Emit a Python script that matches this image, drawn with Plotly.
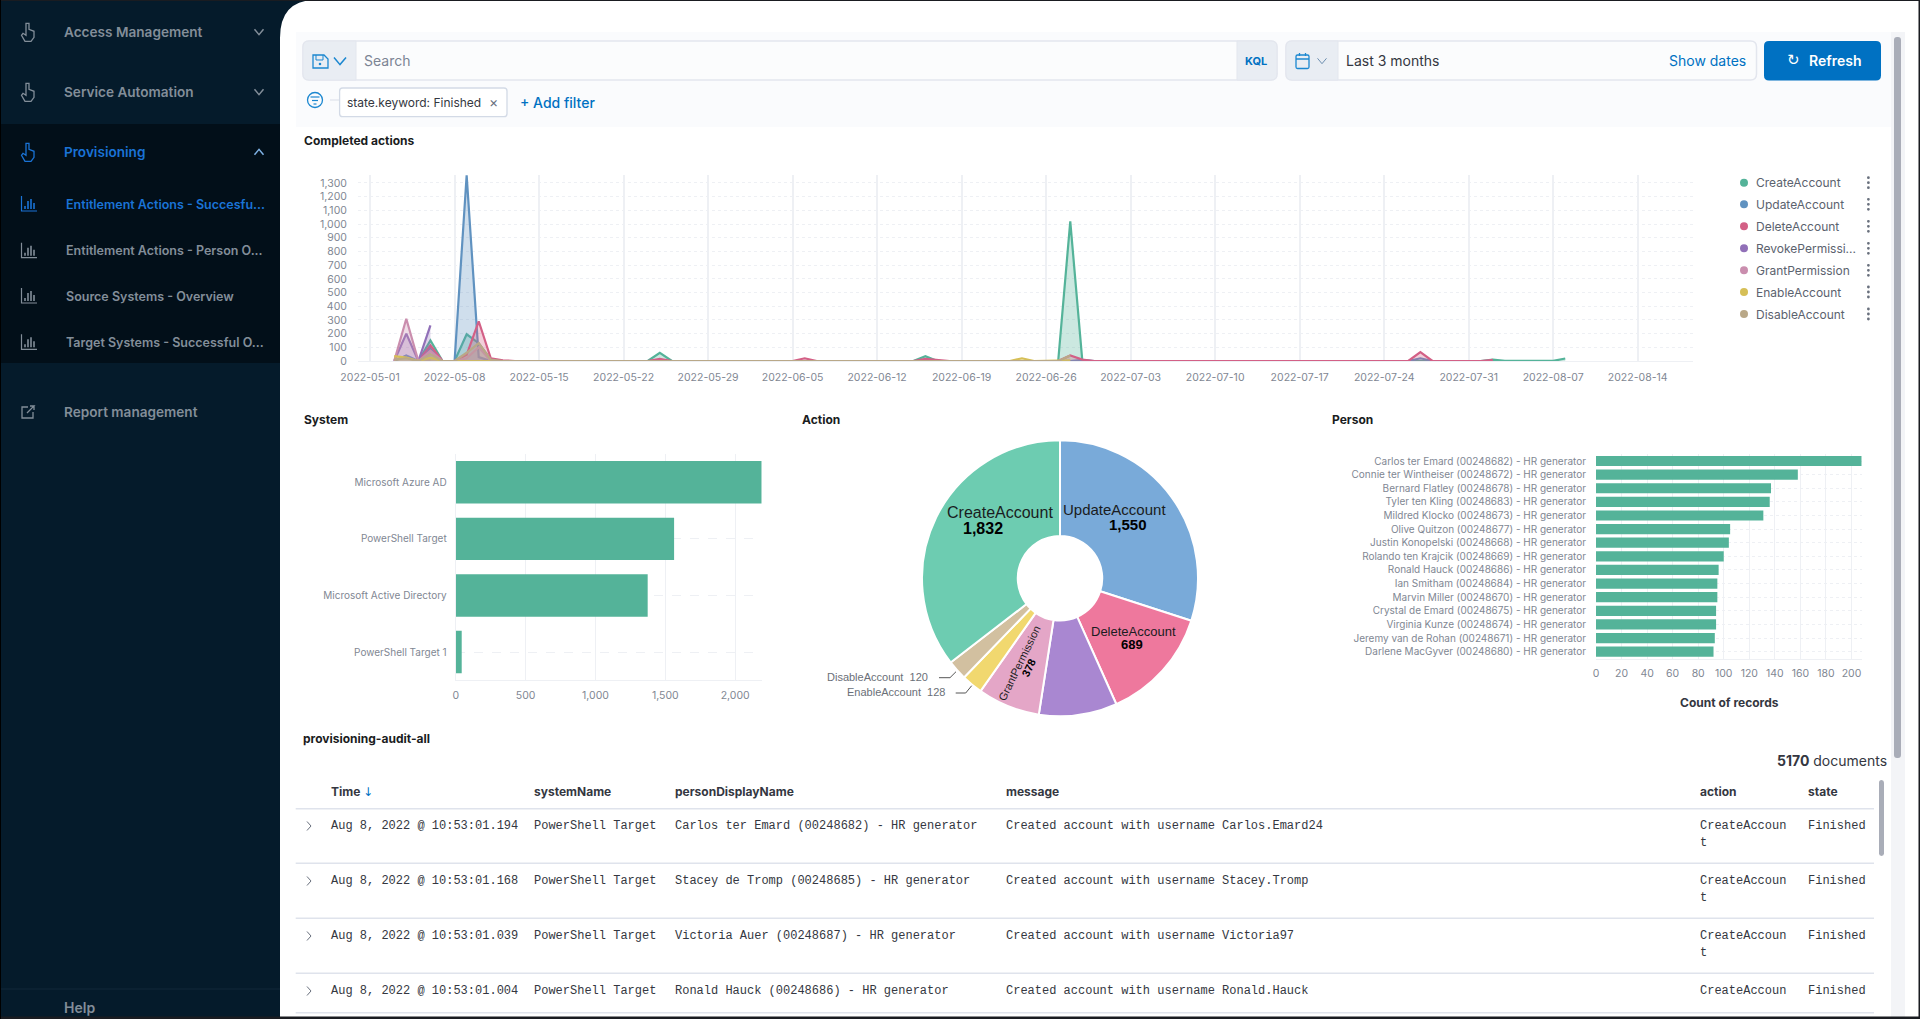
"""
Provisioning dashboard screenshot rebuilt with plotly
"""
import plotly.graph_objects as go

W = 1920
H = 1019
INTER = "Inter"
ARIAL = "Liberation Sans"
MONO = "Liberation Mono"

# Completed actions (only the days where a line changes direction)
create_days = ["2022-05-05", "2022-05-06", "2022-05-07", "2022-05-08", "2022-05-09", "2022-05-10", "2022-05-11",
               "2022-05-12", "2022-05-24", "2022-05-25", "2022-05-26", "2022-06-15", "2022-06-16", "2022-06-17",
               "2022-06-27", "2022-06-28", "2022-06-29", "2022-08-01", "2022-08-02", "2022-08-03", "2022-08-07",
               "2022-08-08"]
create_vals = [0, 150, 0, 0, 195, 130, 10, 0, 0, 60, 0, 0, 35, 0, 0, 1020, 0, 0, 10, 2, 1, 18]

update_days = ["2022-05-03", "2022-05-04", "2022-05-05", "2022-05-06", "2022-05-07", "2022-05-08", "2022-05-09",
               "2022-05-10", "2022-05-11", "2022-06-28", "2022-06-29", "2022-06-30", "2022-07-26", "2022-07-27",
               "2022-07-28", "2022-08-02"]
update_vals = [0, 40, 0, 90, 0, 0, 1356, 28, 0, 0, 8, 0, 0, 20, 0, 0]

delete_days = ["2022-05-05", "2022-05-06", "2022-05-07", "2022-05-08", "2022-05-09", "2022-05-10", "2022-05-11",
               "2022-05-12", "2022-05-13", "2022-05-24", "2022-05-25", "2022-05-26", "2022-06-05", "2022-06-06",
               "2022-06-07", "2022-06-15", "2022-06-16", "2022-06-17", "2022-06-18", "2022-06-27", "2022-06-28",
               "2022-06-29", "2022-06-30", "2022-07-26", "2022-07-27", "2022-07-28", "2022-08-01", "2022-08-02"]
delete_vals = [0, 115, 0, 0, 45, 290, 20, 5, 0, 0, 15, 0, 0, 20, 0, 0, 15, 10, 0, 0, 40, 10, 0, 0, 65, 0, 0, 8]

revoke_days = ["2022-05-03", "2022-05-04", "2022-05-05", "2022-05-06"]
revoke_vals = [0, 200, 0, 260]

grant_days = ["2022-05-03", "2022-05-04", "2022-05-05", "2022-05-06", "2022-05-07", "2022-05-08", "2022-05-09",
              "2022-05-10", "2022-05-11"]
grant_vals = [0, 309, 0, 75, 0, 0, 20, 100, 0]

enable_days = ["2022-05-03", "2022-05-04", "2022-05-05", "2022-05-06", "2022-05-07", "2022-06-23", "2022-06-24",
               "2022-06-25", "2022-06-28"]
enable_vals = [35, 25, 0, 25, 0, 0, 20, 0, 5]

disable_days = ["2022-05-03", "2022-05-04", "2022-05-05", "2022-05-06", "2022-05-07", "2022-05-08", "2022-05-09",
                "2022-05-10", "2022-05-11", "2022-05-12", "2022-06-27", "2022-06-28"]
disable_vals = [10, 20, 0, 50, 0, 0, 60, 130, 10, 0, 0, 40]

action_names = ["CreateAccount", "UpdateAccount", "DeleteAccount", "RevokePermission",
                "GrantPermission", "EnableAccount", "DisableAccount"]
action_colors = ["#54b399", "#6092c0", "#d36086", "#9170b8", "#ca8eae", "#d6bf57", "#b9a888"]
legend_labels = ["CreateAccount", "UpdateAccount", "DeleteAccount", "RevokePermissi...",
                 "GrantPermission", "EnableAccount", "DisableAccount"]

# System
system_names = ["Microsoft Azure AD", "PowerShell Target", "Microsoft Active Directory", "PowerShell Target 1"]
system_vals = [2190, 1563, 1374, 43]

# Action
pie_names = ["UpdateAccount", "DeleteAccount", "RevokePermission", "GrantPermission",
             "EnableAccount", "DisableAccount", "CreateAccount"]
pie_vals = [1550, 689, 473, 378, 128, 120, 1832]
pie_colors = ["#79aad9", "#ee789d", "#a987d1", "#e4a6c7", "#f1d86f", "#d2c0a0", "#6dccb1"]

# Person
person_names = [
    "Carlos ter Emard (00248682) - HR generator",
    "Connie ter Wintheiser (00248672) - HR generator",
    "Bernard Flatley (00248678) - HR generator",
    "Tyler ten Kling (00248683) - HR generator",
    "Mildred Klocko (00248673) - HR generator",
    "Olive Quitzon (00248677) - HR generator",
    "Justin Konopelski (00248668) - HR generator",
    "Rolando ten Krajcik (00248669) - HR generator",
    "Ronald Hauck (00248686) - HR generator",
    "Ian Smitham (00248684) - HR generator",
    "Marvin Miller (00248670) - HR generator",
    "Crystal de Emard (00248675) - HR generator",
    "Virginia Kunze (00248674) - HR generator",
    "Jeremy van de Rohan (00248671) - HR generator",
    "Darlene MacGyver (00248680) - HR generator",
]
person_vals = [208, 158, 137, 136, 131, 105, 104, 100, 96, 95, 95, 94, 94, 93, 92]

# Table
table_headers = ["Time", "systemName", "personDisplayName", "message", "action", "state"]
row_times = ["Aug 8, 2022 @ 10:53:01.194", "Aug 8, 2022 @ 10:53:01.168",
             "Aug 8, 2022 @ 10:53:01.039", "Aug 8, 2022 @ 10:53:01.004"]
row_systems = ["PowerShell Target", "PowerShell Target", "PowerShell Target", "PowerShell Target"]
row_people = ["Carlos ter Emard (00248682) - HR generator", "Stacey de Tromp (00248685) - HR generator",
              "Victoria Auer (00248687) - HR generator", "Ronald Hauck (00248686) - HR generator"]
row_messages = ["Created account with username Carlos.Emard24", "Created account with username Stacey.Tromp",
                "Created account with username Victoria97", "Created account with username Ronald.Hauck"]
row_actions = ["CreateAccoun", "CreateAccoun", "CreateAccoun", "CreateAccoun"]
row_states = ["Finished", "Finished", "Finished", "Finished"]

# Sidebar
menu_items = ["Access Management", "Service Automation", "Provisioning", "Report management"]
submenu_items = ["Entitlement Actions - Succesfu...", "Entitlement Actions - Person O...",
                 "Source Systems - Overview", "Target Systems - Successful O..."]

shapes = []
notes = []


def px(x):
    return x / W


def py(y):
    return 1 - y / H


def text(x, y, s, size=12, color="#343741", anchor="left", weight=400, family=INTER, angle=0):
    notes.append(dict(x=px(x), y=py(y), xref="paper", yref="paper", text=s, showarrow=False,
                      xanchor=anchor, yanchor="middle", textangle=angle, borderpad=0, borderwidth=0,
                      font=dict(family=family, size=size, color=color, weight=weight)))


def rect(x0, y0, x1, y1, fill, line=None, width=0, layer="below"):
    shapes.append(dict(type="rect", xref="paper", yref="paper", x0=px(x0), y0=py(y0), x1=px(x1), y1=py(y1),
                       fillcolor=fill, line=dict(color=line or fill, width=width), layer=layer))


def path(points, color, width=1.5, fill=None, closed=False, layer="above"):
    d = "M " + " L ".join(f"{px(a):.5f},{py(b):.5f}" for a, b in points)
    if closed:
        d += " Z"
    shapes.append(dict(type="path", xref="paper", yref="paper", path=d, fillcolor=fill,
                       line=dict(color=color, width=width), layer=layer))


def round_box(x0, y0, x1, y1, r, fill, line=None, width=0, layer="below", left=True, right=True):
    def c(a, b):
        return f"{px(a):.5f},{py(b):.5f}"
    rl = r if left else 0
    rr = r if right else 0
    d = (f"M {c(x0 + rl, y0)} L {c(x1 - rr, y0)} Q {c(x1, y0)} {c(x1, y0 + rr)} L {c(x1, y1 - rr)} "
         f"Q {c(x1, y1)} {c(x1 - rr, y1)} L {c(x0 + rl, y1)} Q {c(x0, y1)} {c(x0, y1 - rl)} "
         f"L {c(x0, y0 + rl)} Q {c(x0, y0)} {c(x0 + rl, y0)} Z")
    shapes.append(dict(type="path", xref="paper", yref="paper", path=d, fillcolor=fill,
                       line=dict(color=line or fill, width=width), layer=layer))


def circle(x, y, r, fill, line=None, width=0, layer="above"):
    shapes.append(dict(type="circle", xref="paper", yref="paper", x0=px(x - r), y0=py(y + r), x1=px(x + r),
                       y1=py(y - r), fillcolor=fill, line=dict(color=line or fill, width=width), layer=layer))


def chevron(x, y, color, up=False, size=4.5, width=1.5):
    d = -size * 0.6 if up else size * 0.6
    path([(x - size, y - d), (x, y + d), (x + size, y - d)], color, width)


def chart_icon(y, color):
    path([(21.5, y - 8), (21.5, y + 7), (37, y + 7)], color, 1.2)
    for bx, top in [(25, 2), (28, -3), (31, -5), (34, -1)]:
        path([(bx, y + 5), (bx, y + top)], color, 1.6)


def hand_icon(y, color):
    path([(26, y - 9), (29, y - 9), (29, y - 3), (34, y - 1), (34, y + 5), (31, y + 9), (25, y + 9),
          (21.5, y + 3), (23, y + 1), (26, y + 3)], color, 1.3, closed=True)


# page background and sidebar
SIDE = "#051b2b"
rect(0, 0, 280, H, SIDE)
rect(0, 124, 280, 363, "#020f19")
shapes.append(dict(type="path", xref="paper", yref="paper", fillcolor=SIDE, line=dict(color=SIDE, width=0),
                   layer="below",
                   path=f"M {px(280)},{py(0)} L {px(314)},{py(0)} Q {px(280)},{py(1)} {px(280)},{py(38)} Z"))
rect(0, 988.5, 280, 989.5, "#12293a")

MENU_GRAY = "#838e99"
BLUE = "#1a73d6"
for label, y, color in zip(menu_items, [32.3, 92.3, 152.3, 412.3], [MENU_GRAY, MENU_GRAY, BLUE, MENU_GRAY]):
    text(64, y, label, 13.6, color, weight=600)
for y, color in zip([32.3, 92.3, 152.3], [MENU_GRAY, MENU_GRAY, BLUE]):
    hand_icon(y, color)
chevron(259, 32, MENU_GRAY)
chevron(259, 92, MENU_GRAY)
chevron(259, 152, "#7fb2e5", up=True)
for label, y, color in zip(submenu_items, [204, 250.7, 296, 342.3], [BLUE, MENU_GRAY, MENU_GRAY, MENU_GRAY]):
    text(66, y, label, 12.5, color, weight=600)
    chart_icon(y, color)
# report management icon
path([(28, 407), (22, 407), (22, 418), (33, 418), (33, 412)], MENU_GRAY, 1.3)
path([(27, 413), (34, 406), (30, 406), (34, 406), (34, 410)], MENU_GRAY, 1.3)
text(64, 1007, "Help", 14, MENU_GRAY, weight=600)

# search area
rect(296, 32, 1891, 127, "#fafbfd")
round_box(303, 41, 1277, 80, 6, "#fbfcfd", "#e3e6ee", 1.5)
round_box(303, 41, 356, 80, 6, "#e9edf3", "#e3e6ee", 1, right=False)
round_box(1237, 41, 1277, 80, 6, "#e9edf3", "#e3e6ee", 1, left=False)
ICON_BLUE = "#1b87d0"
path([(313, 55), (324, 55), (328, 59), (328, 68), (313, 68)], ICON_BLUE, 1.3, closed=True)
path([(316, 55), (316, 60), (323, 60), (323, 55)], ICON_BLUE, 1)
circle(320, 64, 1.3, ICON_BLUE)
chevron(340, 61, ICON_BLUE, size=6)
text(364, 60, "Search", 14, "#7b8494")
text(1256, 60.7, "KQL", 11, "#0071c2", anchor="center", weight=700)

round_box(1286, 41, 1756.5, 80, 6, "#fbfcfd", "#e3e6ee", 1.5)
round_box(1286, 41, 1338, 80, 6, "#e9edf3", "#e3e6ee", 1, right=False)
round_box(1296, 55, 1309, 68.5, 1.5, "rgba(0,0,0,0)", ICON_BLUE, 1.3, layer="above")
path([(1296, 59), (1309, 59)], ICON_BLUE, 1.5)
path([(1299.5, 53), (1299.5, 56)], ICON_BLUE, 1.3)
path([(1305.5, 53), (1305.5, 56)], ICON_BLUE, 1.3)
chevron(1322, 61, "#6d8fb0", size=4.5, width=1)
text(1346, 60.7, "Last 3 months", 14, "#343741")
text(1746, 60.7, "Show dates", 14, "#0071c2", anchor="right")
round_box(1764, 41, 1881, 80.5, 5, "#0071c2")
text(1793, 60.2, "↻", 15, "#ffffff", anchor="center", family="DejaVu Sans")
text(1809, 60.7, "Refresh", 14, "#ffffff", weight=600)

# filter row
circle(315, 100, 7.5, "rgba(0,0,0,0)", ICON_BLUE, 1.3)
path([(310.5, 97), (319.5, 97)], ICON_BLUE, 1.2)
path([(312, 100.5), (318, 100.5)], ICON_BLUE, 1.2)
path([(313.5, 104), (316.5, 104)], ICON_BLUE, 1.2)
path([(330, 100), (339, 100)], "#dfe3ec", 1.2)
round_box(339.6, 88, 507, 116.7, 3, "#ffffff", "#d3dae6", 1.3)
text(347, 102.3, "state.keyword: Finished", 12, "#343741")
text(493.5, 102, "×", 14, "#69707d", anchor="center")
text(520, 102.6, "+ Add filter", 14, "#0071c2", weight=500)

# panel titles
TITLE = "#1a1c21"
text(304, 140, "Completed actions", 12, TITLE, weight=700)
text(303.5, 419, "System", 12, TITLE, weight=700)
text(802.3, 419, "Action", 12, TITLE, weight=700)
text(1332.4, 419, "Person", 12, TITLE, weight=700)
text(303, 738.3, "provisioning-audit-all", 12, TITLE, weight=700)

# legend of the area chart
for label, color, y in zip(legend_labels, action_colors, [182.7, 204.3, 226.3, 248.3, 270.3, 292, 314]):
    circle(1744, y, 4, color)
    text(1756, y, label, 12, "#5b626e")
    for dy in (-5, 0, 5):
        circle(1868.4, y + dy, 1.4, "#69707d")

# pie labels
text(1000.3, 512.7, "CreateAccount", 16, "#1a1c21", "center", family=ARIAL)
text(982.7, 528.3, "1,832", 16, "#000000", "center", 700, ARIAL)
text(1114.3, 509.3, "UpdateAccount", 15, "#1a1c21", "center", family=ARIAL)
text(1127.7, 524, "1,550", 15, "#000000", "center", 700, ARIAL)
text(1133, 631.7, "DeleteAccount", 13, "#1a1c21", "center", family=ARIAL)
text(1131.7, 644.3, "689", 13, "#000000", "center", 700, ARIAL)
text(1019.3, 662.7, "GrantPermission", 11, "#1a1c21", "center", family=ARIAL, angle=-64)
text(1028.7, 668.3, "378", 11, "#000000", "center", 700, ARIAL, angle=-64)
text(928.3, 676.7, "DisableAccount  120", 11, "#6a6f78", "right", family=ARIAL)
text(945, 691.7, "EnableAccount  128", 11, "#6a6f78", "right", family=ARIAL)
path([(939, 677.7), (950, 677.7), (956, 671.7)], "#555555", 1)
path([(955.7, 693), (965.7, 693), (971.7, 685.7)], "#555555", 1)

# axis title of the person chart
text(1729, 702, "Count of records", 12, "#343741", "center", 700)

# table
text(1887, 760.7, "<b>5170</b> documents", 14, "#343741", "right")
for head, x in zip(table_headers, [331, 534, 675.4, 1006, 1700.4, 1807.6]):
    text(x, 791.7, head, 12, "#343741", weight=700)
text(368, 792, "↓", 12, "#0071c2", "center", family="DejaVu Sans")
for y in [808.7, 863.3, 918.3, 973.3, 1012.7]:
    path([(295.7, y), (1874, y)], "#dfe3ec", 1.5, layer="below")
for i, y in enumerate([826, 881, 936, 991]):
    path([(307, y - 4.5), (311, y), (307, y + 4.5)], "#69707d", 1)
    text(331, y, row_times[i], 12, "#343741", family=MONO)
    text(534, y, row_systems[i], 12, "#343741", family=MONO)
    text(675.4, y, row_people[i], 12, "#343741", family=MONO)
    text(1006, y, row_messages[i], 12, "#343741", family=MONO)
    text(1700.4, y, row_actions[i], 12, "#343741", family=MONO)
    if i < 3:
        text(1700.4, y + 17, "t", 12, "#343741", family=MONO)
    text(1807.6, y, row_states[i], 12, "#343741", family=MONO)

# scrollbars and the frame of the picture
rect(1891, 32, 1905, H, "#f3f4f7")
round_box(1894, 37, 1901, 758, 3, "#a9adb8")
round_box(1879, 780, 1884, 856, 2.5, "#a9adb8", layer="above")
rect(0, 1016.5, W, H, "#1a1c21", layer="above")
rect(0, 0, W, 1, "#1a1c21", layer="above")
rect(0, 0, 1, H, "#000000", layer="above")
rect(1918.5, 0, W, H, "#1a1c21", layer="above")

fig = go.Figure()

# Completed actions
series = [
    (create_days, create_vals),
    (update_days, update_vals),
    (delete_days, delete_vals),
    (revoke_days, revoke_vals),
    (grant_days, grant_vals),
    (enable_days, enable_vals),
    (disable_days, disable_vals),
]
fills = ["rgba(84,179,153,0.3)", "rgba(96,146,192,0.3)", "rgba(211,96,134,0.3)", "rgba(145,112,184,0.3)",
         "rgba(202,142,174,0.3)", "rgba(214,191,87,0.3)", "rgba(185,168,136,0.3)"]
for name, color, fill, (days, vals) in zip(action_names, action_colors, fills, series):
    fig.add_trace(go.Scatter(
        x=days, y=vals, name=name, mode="lines", fill="tozeroy", fillcolor=fill, cliponaxis=False,
        line=dict(color=color, width=2.2), showlegend=False, xaxis="x", yaxis="y",
    ))

# System
fig.add_trace(go.Bar(
    x=system_vals, y=system_names, orientation="h", marker_color="#54b399", marker_line_width=0,
    showlegend=False, xaxis="x2", yaxis="y2",
))

# Action
fig.add_trace(go.Pie(
    labels=pie_names, values=pie_vals, hole=0.306, sort=False, direction="clockwise", rotation=0,
    marker=dict(colors=pie_colors, line=dict(color="#ffffff", width=2)), textinfo="none",
    domain=dict(x=[px(1060 - 138), px(1060 + 138)], y=[py(578.3 + 138), py(578.3 - 138)]),
    showlegend=False,
))

# Person
fig.add_trace(go.Bar(
    x=person_vals, y=person_names, orientation="h", marker_color="#54b399", marker_line_width=0,
    showlegend=False, xaxis="x3", yaxis="y3",
))

TICK_FONT = dict(family=INTER, size=10.5, color="#7f8793")
LABEL_FONT = dict(family=INTER, size=10, color="#7f8793")
GRID = "#eef0f4"

fig.update_layout(
    width=W,
    height=H,
    margin=dict(l=0, r=0, t=0, b=0, autoexpand=False),
    paper_bgcolor="#ffffff",
    plot_bgcolor="rgba(0,0,0,0)",
    font=dict(family=INTER),
    shapes=shapes,
    annotations=notes,
    xaxis=dict(
        domain=[px(358), px(1693)], anchor="y", type="date", automargin=False,
        range=["2022-04-30", "2022-08-18 14:00"],
        tick0="2022-05-01", dtick=7 * 86400000, tickformat="%Y-%m-%d",
        showgrid=True, gridcolor=GRID, gridwidth=1.5, zeroline=False,
        showline=True, linecolor=GRID, ticks="outside", ticklen=6, tickcolor="rgba(0,0,0,0)",
        tickfont=TICK_FONT,
    ),
    yaxis=dict(
        domain=[py(361), py(175)], anchor="x", range=[0, 1358], tick0=0, dtick=100, tickformat=",",
        automargin=False, showgrid=True, gridcolor=GRID, griddash="dot", zeroline=False,
        ticks="outside", ticklen=8, tickcolor="rgba(0,0,0,0)", tickfont=TICK_FONT,
    ),
    xaxis2=dict(
        domain=[px(455.7), px(761.7)], anchor="y2", range=[0, 2190], tick0=0, dtick=500, tickformat=",",
        automargin=False, showgrid=True, gridcolor=GRID, zeroline=False, showline=True, linecolor=GRID,
        ticks="outside", ticklen=5, tickcolor="rgba(0,0,0,0)", tickfont=TICK_FONT,
    ),
    yaxis2=dict(
        domain=[py(680.3), py(454)], anchor="x2", autorange="reversed", automargin=False,
        categoryorder="array", categoryarray=system_names,
        showgrid=True, gridcolor=GRID, griddash="dash", zeroline=False, showline=True, linecolor=GRID,
        ticks="outside", ticklen=6, tickcolor="rgba(0,0,0,0)", tickfont=LABEL_FONT,
    ),
    xaxis3=dict(
        domain=[px(1596), px(1861.7)], anchor="y3", range=[0, 208], tick0=0, dtick=20,
        automargin=False, showgrid=True, gridcolor=GRID, zeroline=False, showline=True, linecolor=GRID,
        ticks="outside", ticklen=5, tickcolor="rgba(0,0,0,0)", tickfont=TICK_FONT,
    ),
    yaxis3=dict(
        domain=[py(658.5), py(454.2)], anchor="x3", autorange="reversed", automargin=False,
        categoryorder="array", categoryarray=person_names,
        showgrid=True, gridcolor=GRID, griddash="dot", zeroline=False,
        ticks="outside", ticklen=7, tickcolor="rgba(0,0,0,0)", tickfont=LABEL_FONT,
    ),
    bargap=0.25,
)

fig.write_html(
    "out.html",
    config=dict(displayModeBar=False),
    post_script="document.body.style.margin='0';document.body.style.overflow='hidden';",
)
